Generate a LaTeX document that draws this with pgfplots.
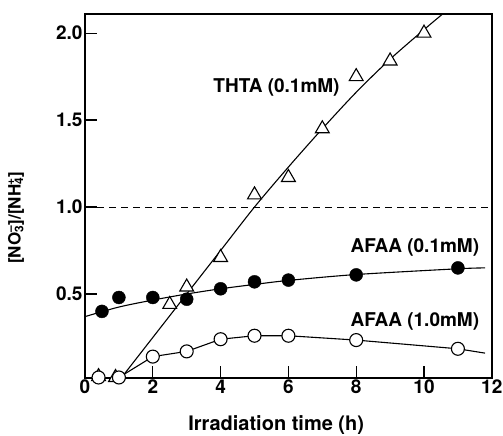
\documentclass[border=0pt]{standalone}
\usepackage{fontspec}
\setmainfont{TeX Gyre Heros}
\usepackage{pgfplots}
\pgfplotsset{compat=1.18}
\begin{document}
\begin{tikzpicture}
\begin{axis}[
    scale only axis,
    width=406.8pt, height=364pt,
    xmin=0, xmax=12, ymin=0.017, ymax=2.11,
    xtick={0,2,...,12},
    ytick={0.5,1.0,1.5,2.0},
    yticklabel style={/pgf/number format/fixed, /pgf/number format/fixed zerofill, /pgf/number format/precision=1, xshift=1pt},
    /pgf/number format/assume math mode=true,
    tick label style={font=\fontsize{19}{21}\selectfont\bfseries},
    xticklabel style={yshift=2pt},
    tick pos=left, tick align=inside,
    major tick length=12pt,
    axis line style={line width=2pt},
    every tick/.style={line width=1.2pt, black},
    clip=false,
    xlabel={Irradiation time (h)},
    xlabel style={font=\fontsize{20}{22}\selectfont\bfseries, at={(rel axis cs:0.47,0)}, anchor=center, yshift=-47pt},
]
% dashed reference at 1.0
\addplot[black, line width=1pt, dash pattern=on 7pt off 5pt] coordinates {(0,1.0) (12,1.0)};

% THTA (0.1mM) fitted curve
\addplot[black, line width=1.1pt, smooth] coordinates {
    (1,0.0) (2,0.25) (3,0.5) (4,0.75) (5,1.0) (6,1.23) (7,1.45) (8,1.66) (9,1.85) (10,2.02) (10.55,2.11)
};
% AFAA (0.1mM) fitted curve
\addplot[black, line width=1.1pt, smooth] coordinates {
    (0,0.37) (1,0.425) (2,0.465) (3,0.5) (4,0.53) (5,0.555) (6,0.578) (8,0.612) (11,0.645) (11.8,0.65)
};
% AFAA (1.0mM) connecting line
\addplot[black, line width=1.1pt] coordinates {
    (1,0.02) (2,0.14) (3,0.17) (4,0.24) (5,0.26) (6,0.26) (8,0.235) (11,0.185) (11.8,0.16)
};

% THTA marks
\addplot[only marks, mark=triangle*, mark size=8pt, mark options={fill=white, draw=black, line width=1.1pt}] coordinates {
    (0.4,0.025) (0.9,0.02) (2.5,0.44) (3,0.54) (4,0.71) (5,1.07) (6,1.17) (7,1.45) (8,1.75) (9,1.84) (10,2.0)
};
% AFAA (0.1mM) marks
\addplot[only marks, mark=*, mark size=6.5pt, mark options={fill=black, draw=black}] coordinates {
    (0.5,0.40) (1,0.48) (2,0.48) (3,0.47) (4,0.53) (5,0.57) (6,0.58) (8,0.61) (11,0.65)
};
% AFAA (1.0mM) marks
\addplot[only marks, mark=*, mark size=6.5pt, mark options={fill=white, draw=black, line width=1.1pt}] coordinates {
    (0.4,0.02) (1,0.02) (2,0.14) (3,0.17) (4,0.24) (5,0.26) (6,0.26) (8,0.235) (11,0.185)
};

\node[font=\fontsize{19}{21}\selectfont\bfseries] at (axis cs:5.65,1.69) {THTA (0.1mM)};
\node[font=\fontsize{19}{21}\selectfont\bfseries] at (axis cs:9.73,0.77) {AFAA (0.1mM)};
\node[font=\fontsize{19}{21}\selectfont\bfseries] at (axis cs:9.73,0.34) {AFAA (1.0mM)};
% y axis label
\node[rotate=90, font=\fontsize{17}{19}\selectfont\bfseries] at ([xshift=-69pt]rel axis cs:0,0.44)
    {[NO\textsubscript{3}\llap{\textsuperscript{--}}]/[NH\textsubscript{4}\llap{\textsuperscript{+}}]};
\end{axis}
\pgfresetboundingbox
\path[use as bounding box] ([shift={(-85pt,-58pt)}]current axis.south west) rectangle ([shift={(11.2pt,14pt)}]current axis.north east);
\end{tikzpicture}
\end{document}
